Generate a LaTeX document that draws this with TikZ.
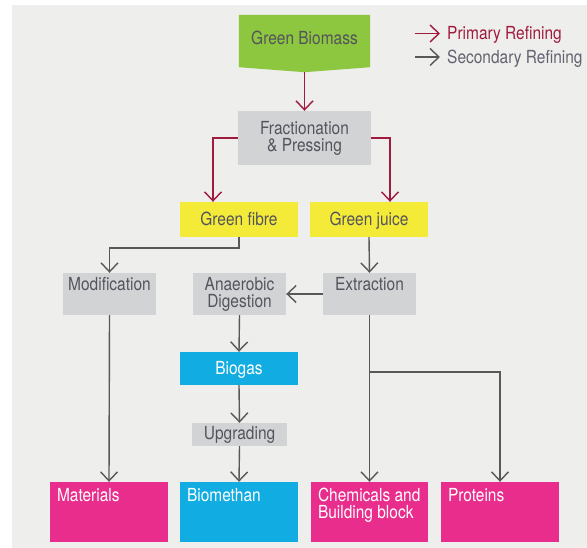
\documentclass[tikz,border=0pt]{standalone}
\usepackage{fontspec}
\setmainfont[FakeStretch=0.86]{TeX Gyre Heros}
\usetikzlibrary{arrows.meta,calc,backgrounds}
\definecolor{pagegray}{RGB}{238,238,236}
\definecolor{boxgray}{RGB}{210,211,213}
\definecolor{bgreen}{RGB}{141,198,63}
\definecolor{fyellow}{RGB}{244,235,56}
\definecolor{fcyan}{RGB}{16,172,226}
\definecolor{fpink}{RGB}{232,45,140}
\definecolor{primred}{RGB}{160,27,62}
\definecolor{secgray}{RGB}{88,88,88}
\definecolor{txtgray}{RGB}{84,84,94}
\definecolor{legtxt}{RGB}{98,98,112}
\newcommand{\tb}[4]{\parbox[c][#2][t]{#1}{\vspace*{#3}#4}}
\newcommand{\dfont}{\fontsize{18}{17}\selectfont}
\begin{document}
\begin{tikzpicture}[x=1pt,y=-1pt,
  box/.style={inner sep=0pt, font=\dfont, text=txtgray},
  ctr/.style={box, text height=12.9pt, text depth=0pt},
  mbox/.style={box, align=center},
  prim/.style={draw=primred, line width=1.4pt, -{Straight Barb[length=9pt,width=17pt]}},
  sec/.style={draw=secgray, line width=1.4pt, -{Straight Barb[length=9pt,width=17pt]}}]
\useasboundingbox (0,0) rectangle (587,548);

% nodes
\node[ctr, minimum width=131pt, minimum height=52pt, text depth=6pt] (bio) at (304.5,41) {Green Biomass};
\node[mbox, fill=boxgray, minimum width=133pt, minimum height=54pt] (frac) at (304.5,138) {Fractionation\\\& Pressing};
\node[ctr, fill=fyellow, minimum width=118pt, minimum height=35pt] (fibre) at (239,219.5) {Green fibre};
\node[ctr, fill=fyellow, minimum width=118pt, minimum height=35pt] (juice) at (369,219.5) {Green juice};
\node[box, fill=boxgray] (mod) at (109.5,294) {\tb{93pt}{42pt}{4pt}{\centering Modification}};
\node[box, fill=boxgray] (ana) at (239.5,294) {\tb{93pt}{42pt}{4pt}{\centering Anaerobic\\Digestion}};
\node[box, fill=boxgray] (ext) at (369.5,294) {\tb{93pt}{42pt}{4pt}{\centering Extraction}};
\node[ctr, fill=fcyan, text=white, minimum width=118pt, minimum height=33pt] (gas) at (239,368.5) {Biogas};
\node[ctr, fill=boxgray, minimum width=95pt, minimum height=23pt, text depth=2pt] (upg) at (239.5,434.5) {Upgrading};
\node[box, fill=fpink, text=white] (mat) at (109,512) {\tb{118pt}{60pt}{6pt}{\raggedright\leftskip=7pt Materials}};
\node[box, fill=fcyan, text=white] (meth) at (239,512) {\tb{118pt}{60pt}{6pt}{\raggedright\leftskip=7pt Biomethan}};
\node[box, fill=fpink, text=white] (chem) at (369.5,512) {\tb{117pt}{60pt}{6pt}{\raggedright\leftskip=7pt Chemicals and\\Building block}};
\node[box, fill=fpink, text=white] (prot) at (500,512) {\tb{118pt}{60pt}{6pt}{\raggedright\leftskip=7pt Proteins}};

% legend
\node[ctr, anchor=west, text=primred] (l1) at (447,33.5) {Primary Refining};
\node[ctr, anchor=west, text=legtxt] (l2) at (447,57) {Secondary Refining};
\coordinate (l1s) at (415,33.5);
\coordinate (l2s) at (415,57);
\draw[prim] (l1s) -- ([xshift=-7pt]l1.west);
\draw[sec] (l2s) -- ([xshift=-7pt]l2.west);

% background
\begin{pgfonlayer}{background}
\fill[white] (0,0) rectangle (587,548);
\fill[pagegray] (12,5) rectangle (587,548);
\fill[bgreen] (bio.north west) -- (bio.north east) -- (bio.south east) -- ($(bio.south)+(0,5)$) -- (bio.south west) -- cycle;
\end{pgfonlayer}

% connectors
\draw[prim] ($(bio.south)+(0,5)$) -- (frac.north);
\draw[prim] (frac.west) -| ([xshift=-26pt]fibre.north);
\draw[prim] (frac.east) -| ([xshift=21pt]juice.north);
\draw[sec] (fibre.south) -- ++(0,11) -| (mod.north);
\draw[sec] (juice.south) -- (ext.north);
\draw[sec] (ext.west) -- (ana.east);
\draw[sec] (ana.south) -- (gas.north);
\draw[sec] (gas.south) -- (upg.north);
\draw[sec] (upg.south) -- (meth.north);
\draw[sec] (mod.south) -- (mat.north);
\draw[sec] (ext.south) -- (chem.north);
\draw[sec] ($(ext.south)+(0,57)$) -| (prot.north);
\end{tikzpicture}
\end{document}
